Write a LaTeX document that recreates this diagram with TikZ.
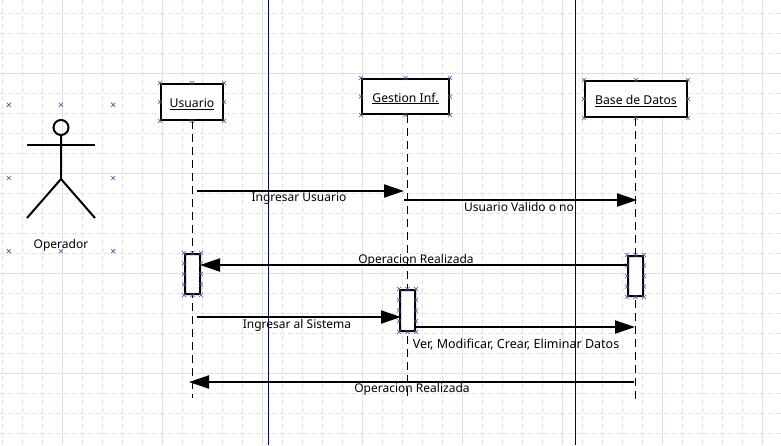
\documentclass[tikz,border=0pt]{standalone}
\usepackage{fontspec}
\setmainfont{Noto Sans}
\usetikzlibrary{
    arrows.meta,
    calc,
    shapes.misc
}
\definecolor{gridsolid}{HTML}{D9E3E3}
\definecolor{griddash}{HTML}{DDE5E5}
\definecolor{handleblue}{HTML}{4A4AA8}
\definecolor{swimblue}{HTML}{000070}
\tikzset{
    objbox/.style={draw, line width=2pt, fill=white, inner sep=0pt, text height=11pt, text depth=0pt, font=\fontsize{12.2}{14}\selectfont},
    actbox/.style={draw, line width=2pt, fill=white, inner sep=0pt, rounded corners=1pt},
    actorframe/.style={inner sep=0pt, minimum width=104pt, minimum height=146pt},
    handle/.style={cross out, draw=handleblue, line width=0.6pt, inner sep=0pt, minimum size=3.5pt},
    lifeline/.style={line width=1pt, dash pattern=on 8pt off 5pt},
    msg/.style={line width=2pt, -{Triangle[length=20pt,width=13pt]}, shorten >=-1pt},
    msglabel/.style={inner sep=0pt, yshift=-2pt, font=\fontsize{12}{14}\selectfont}
}

\begin{document}
\begin{tikzpicture}[x=1pt,y=-1pt]
\useasboundingbox (0,0) rectangle (781,445);
\fill[white] (0,0) rectangle (781,445);
% grid
\foreach \i in {2,22,...,762} {
    \draw[griddash, line width=1pt, dash pattern=on 5pt off 3pt] (\i.5,0) -- (\i.5,445);
}
\foreach \j in {13,33,...,433} {
    \draw[griddash, line width=1pt, dash pattern=on 5pt off 3pt] (0,\j.5) -- (781,\j.5);
}
\foreach \i in {62,162,...,762} {
    \draw[gridsolid, line width=1pt] (\i.5,0) -- (\i.5,445);
}
\foreach \j in {73,173,273,373} {
    \draw[gridsolid, line width=1pt] (0,\j.5) -- (781,\j.5);
}
% swimlanes
\draw[swimblue, line width=1pt] (268.5,0) -- (268.5,445);
\draw[swimblue, line width=1pt] (575.5,0) -- (575.5,445);
% objects
\node[objbox, minimum width=62pt, minimum height=36pt] (usuario) at (192,102) {\underline{Usuario}};
\node[objbox, minimum width=87pt, minimum height=35pt] (gestion) at (405.5,96.5) {\underline{Gestion Inf.}};
\node[objbox, minimum width=102pt, minimum height=36pt] (base) at (636,99) {\underline{Base de Datos}};
% actor
\node[actorframe] (operador) at (61,178) {};
\node[draw, circle, line width=2pt, minimum size=15pt, inner sep=0pt] (head) at (61,127.5) {};
\coordinate (hip) at (61,179);
\coordinate (handl) at (27,145);
\coordinate (handr) at (95,145);
\coordinate (footl) at (27,218);
\coordinate (footr) at (95,218);
\draw[line width=2pt] (head) -- (hip);
\draw[line width=2pt] (handl) -- (handr);
\draw[line width=2pt] (footl) -- (hip) -- (footr);
\node[msglabel] (oplabel) at (61,243) {Operador};
% lifelines
\coordinate (endusuario) at (192,398);
\coordinate (endgestion) at (407,396);
\coordinate (endbase) at (635,400);
\draw[lifeline] (usuario.south) -- (endusuario);
\draw[lifeline] (gestion.south -| endgestion) -- (endgestion);
\draw[lifeline] (base.south -| endbase) -- (endbase);
% activations
\node[actbox, minimum width=15pt, minimum height=40pt] (actusuario) at (192.5,274) {};
\node[actbox, minimum width=15pt, minimum height=41pt] (actgestion) at (407.5,310.5) {};
\node[actbox, minimum width=15pt, minimum height=40pt] (actbase) at (635.5,276) {};
% handles
\foreach \n in {usuario,gestion,base,operador} {
    \foreach \a in {north west,north,north east,west,east,south west,south,south east} {
        \node[handle] at (\n.\a) {};
    }
}
\foreach \n in {actusuario,actgestion,actbase} {
    \foreach \f in {0,0.25,0.5,0.75,1} {
        \node[handle] at ($(\n.north west)!\f!(\n.south west)$) {};
        \node[handle] at ($(\n.north east)!\f!(\n.south east)$) {};
    }
    \node[handle] at (\n.north) {};
    \node[handle] at (\n.south) {};
}
% messages
\coordinate (m1a) at (197,191);
\coordinate (m1b) at (403,191);
\coordinate (m2a) at (404,200);
\coordinate (m2b) at (636,200);
\coordinate (m4a) at (197,317);
\coordinate (m4b) at (400,317);
\coordinate (m5b) at (634,327);
\coordinate (m6a) at (634,382);
\coordinate (m6b) at (190,382);
\draw[msg] (m1a) -- (m1b);
\draw[msg] (m2a) -- (m2b);
\draw[msg] (actbase.west |- 0,265) -- (actusuario.east |- 0,265);
\draw[msg] (m4a) -- (m4b);
\draw[msg] (actgestion.east |- m5b) -- (m5b);
\draw[msg] (m6a) -- (m6b);
% labels
\node[msglabel] (l1) at (299,197) {Ingresar Usuario};
\node[msglabel] (l2) at (519,205) {Usuario Valido o no};
\node[msglabel] (l3) at (416,258) {Operacion Realizada};
\node[msglabel] (l4) at (297,323) {Ingresar al Sistema};
\node[msglabel, font=\fontsize{12.5}{14}\selectfont] (l5) at (516,343) {Ver, Modificar, Crear, Eliminar Datos};
\node[msglabel] (l6) at (412,387) {Operacion Realizada};
\end{tikzpicture}
\end{document}
